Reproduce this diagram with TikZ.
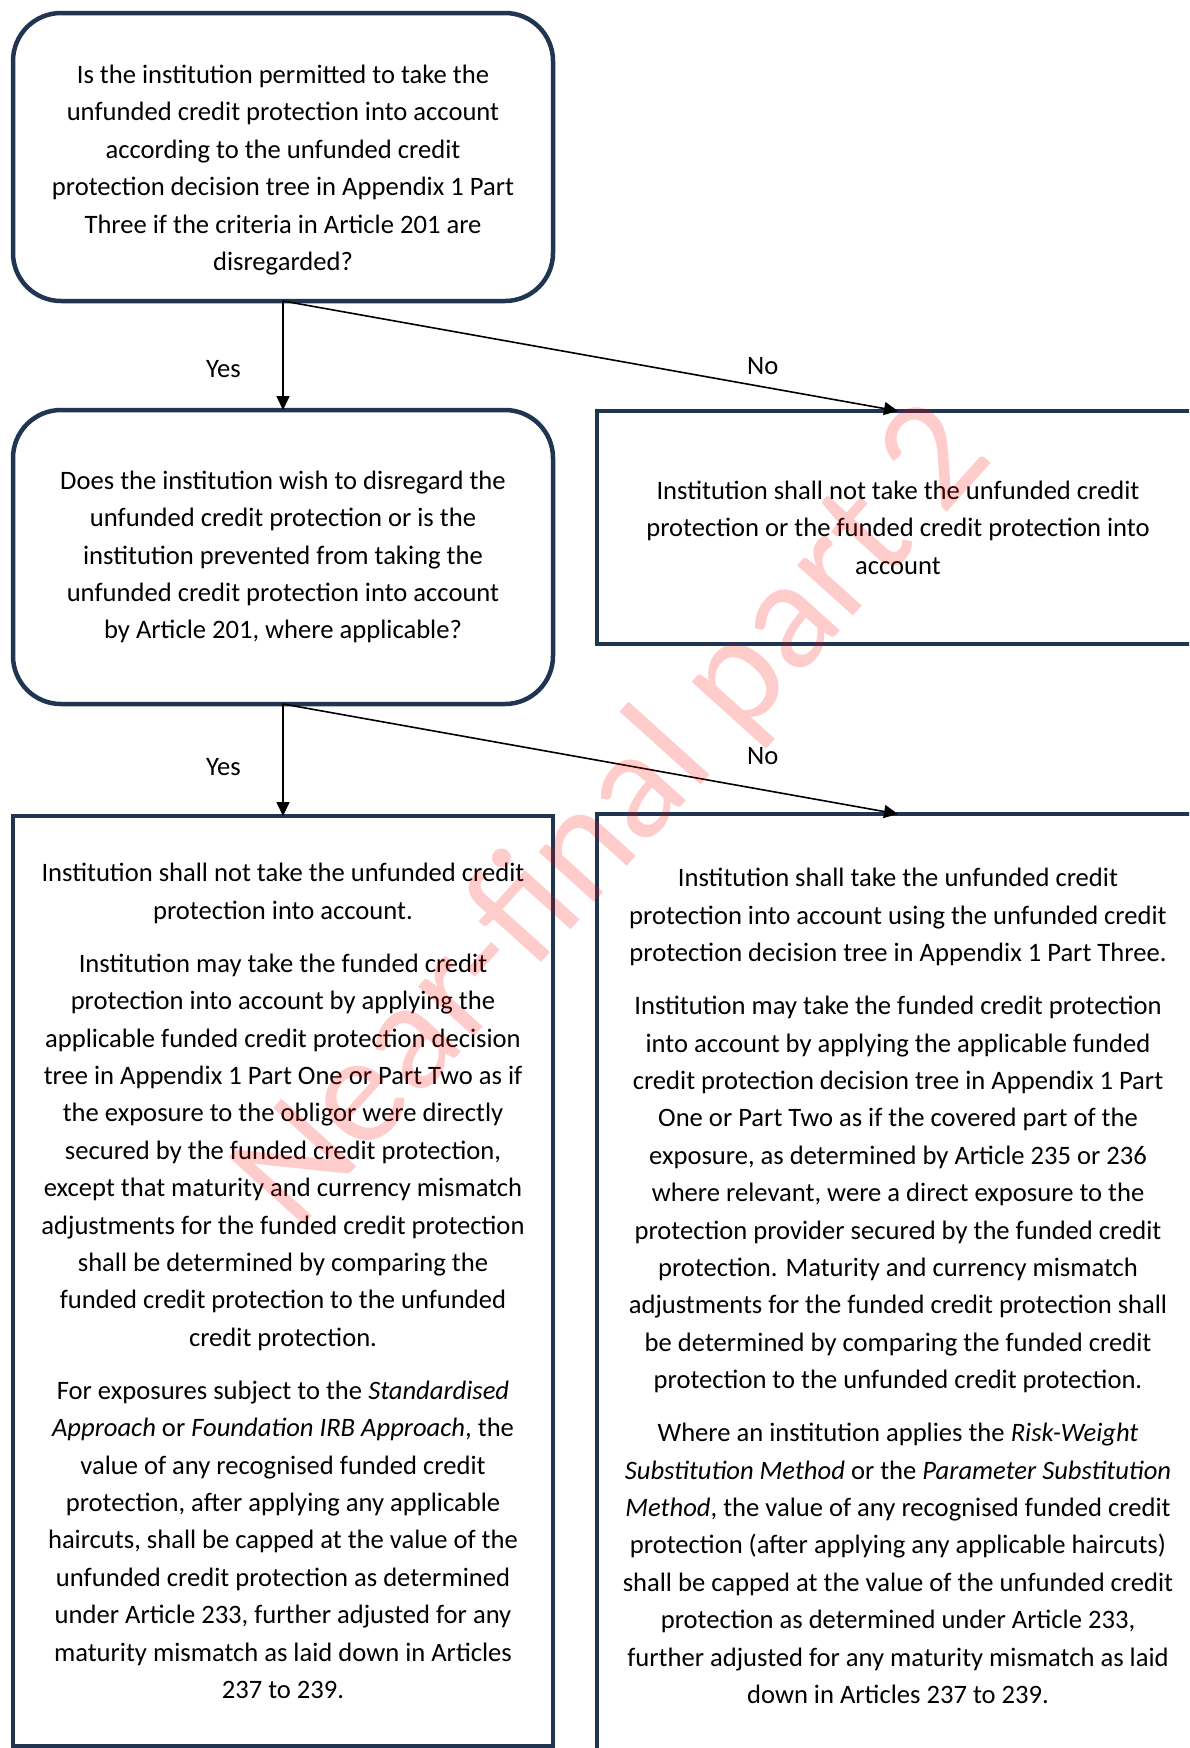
\documentclass[tikz,border=0pt]{standalone}
\usepackage{fontspec}
\setmainfont{Carlito}
\usetikzlibrary{arrows.meta}
\definecolor{boxnavy}{RGB}{31,53,82}

\begin{document}
\begin{tikzpicture}[x=1pt, y=-1pt,
    txt/.style={align=center, font=\fontsize{26.6}{37.4}\selectfont, inner sep=0pt},
    qbox/.style={draw=boxnavy, line width=4.5pt, rounded corners=48pt, minimum width=540pt, outer sep=0pt},
    abox/.style={draw=boxnavy, line width=4.5pt, outer sep=0pt, txt},
    arr/.style={line width=1.6pt, -{Triangle[length=14pt, width=13pt]}},
    lbl/.style={font=\fontsize{26.6}{37.4}\selectfont}]
  \useasboundingbox (0,0) rectangle (1189,1748);
  \clip (0,0) rectangle (1189,1748);

  % Questions
  \node[qbox, minimum height=288pt] (q1) at (283,157) {};
  \node[txt] (q1text) at (283,170) {Is the institution permitted to take the\\
    unfunded credit protection into account\\
    according to the unfunded credit\\
    protection decision tree in Appendix 1 Part\\
    Three if the criteria in Article 201 are\\
    disregarded?};
  \node[qbox, txt, minimum height=294pt] (q2) at (283,557) {Does the institution wish to disregard the\\
    unfunded credit protection or is the\\
    institution prevented from taking the\\
    unfunded credit protection into account\\
    by Article 201, where applicable?};

  % Outcomes
  \node[abox, minimum width=602pt, minimum height=233pt] (no1) at (898,527.5) {Institution shall not take the unfunded credit\\
    protection or the funded credit protection into\\
    account};
  \node[abox, minimum width=540pt, minimum height=930pt] (outA) at (283,1281) {Institution shall not take the unfunded credit\\
    protection into account.\\[15.6pt]
    Institution may take the funded credit\\
    protection into account by applying the\\
    applicable funded credit protection decision\\
    tree in Appendix 1 Part One or Part Two as if\\
    the exposure to the obligor were directly\\
    secured by the funded credit protection,\\
    except that maturity and currency mismatch\\
    adjustments for the funded credit protection\\
    shall be determined by comparing the\\
    funded credit protection to the unfunded\\
    credit protection.\\[15.6pt]
    For exposures subject to the \textit{Standardised}\\
    \textit{Approach} or \textit{Foundation IRB Approach}, the\\
    value of any recognised funded credit\\
    protection, after applying any applicable\\
    haircuts, shall be capped at the value of the\\
    unfunded credit protection as determined\\
    under Article 233, further adjusted for any\\
    maturity mismatch as laid down in Articles\\
    237 to 239.};
  \node[abox, minimum width=602pt, minimum height=944pt] (outB) at (898,1286) {Institution shall take the unfunded credit\\
    protection into account using the unfunded credit\\
    protection decision tree in Appendix 1 Part Three.\\[15.6pt]
    Institution may take the funded credit protection\\
    into account by applying the applicable funded\\
    credit protection decision tree in Appendix 1 Part\\
    One or Part Two as if the covered part of the\\
    exposure, as determined by Article 235 or 236\\
    where relevant, were a direct exposure to the\\
    protection provider secured by the funded credit\\
    protection. Maturity and currency mismatch\\
    adjustments for the funded credit protection shall\\
    be determined by comparing the funded credit\\
    protection to the unfunded credit protection.\\[15.6pt]
    Where an institution applies the \textit{Risk-Weight}\\
    \textit{Substitution Method} or the \textit{Parameter Substitution}\\
    \textit{Method}, the value of any recognised funded credit\\
    protection (after applying any applicable haircuts)\\
    shall be capped at the value of the unfunded credit\\
    protection as determined under Article 233,\\
    further adjusted for any maturity mismatch as laid\\
    down in Articles 237 to 239.};

  % Arrows
  \draw[arr] (q1.south) -- (q2.north) node[lbl, pos=.62, left=38pt] {Yes};
  \draw[arr] (q1.south) -- (no1.north) node[lbl, pos=.78, above=8pt] {No};
  \draw[arr] (q2.south) -- (outA.north) node[lbl, pos=.56, left=38pt] {Yes};
  \draw[arr] (q2.south) -- (outB.north) node[lbl, pos=.78, above=21pt] {No};

  % Watermark
  \node[rotate=48, text=red, opacity=0.2, font=\fontsize{157}{157}\selectfont] (mark) at (615,818) {Near-final part 2};
\end{tikzpicture}
\end{document}
